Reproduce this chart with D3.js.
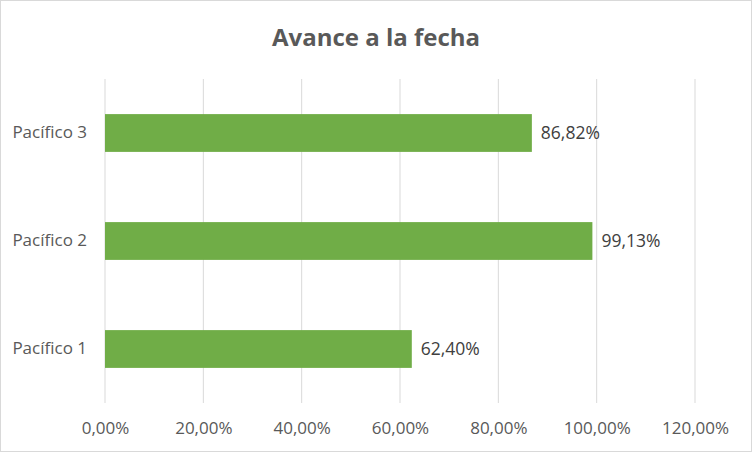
<!DOCTYPE html>
<html>
<head>
<meta charset="utf-8">
<script src="https://cdn.jsdelivr.net/npm/d3@7"></script>
<style>
html,body{margin:0;padding:0;background:#fff;}
svg{display:block;}
text{font-family:"Open Sans",sans-serif;}
</style>
</head>
<body>
<svg id="chart" width="752" height="452"></svg>
<script>
const title = "Avance a la fecha";
const categories = ["Pacífico 1", "Pacífico 2", "Pacífico 3"];
const values = [0.6240, 0.9913, 0.8682];
const tickValues = [0, 0.2, 0.4, 0.6, 0.8, 1.0, 1.2];

const W = 752, H = 452;
const margin = {top: 79, right: 57, bottom: 49, left: 105};
const svg = d3.select("#chart");

svg.append("rect").attr("x", 0.5).attr("y", 0.5).attr("width", W - 1).attr("height", H - 1)
  .attr("fill", "#fff").attr("stroke", "#d9d9d9");

const x = d3.scaleLinear().domain([0, 1.2]).range([margin.left, W - margin.right]);
const y = d3.scaleBand().domain(categories.slice().reverse())
  .range([margin.top, H - margin.bottom]).paddingInner(0.65).paddingOuter(0.325);

const fmt = v => d3.format(".2f")(v * 100).replace(".", ",") + "%";

// gridlines
svg.append("g").selectAll("line").data(tickValues).join("line")
  .attr("x1", d => x(d)).attr("x2", d => x(d))
  .attr("y1", margin.top).attr("y2", H - margin.bottom)
  .attr("stroke", "#d9d9d9").attr("stroke-width", 1);

// x axis labels
const xAxis = d3.axisBottom(x).tickValues(tickValues).tickFormat(fmt).tickSize(0).tickPadding(0);
const gx = svg.append("g").attr("transform", `translate(0,${H - margin.bottom + 18.5})`).call(xAxis);
gx.select(".domain").remove();
gx.selectAll("text").attr("fill", "#595959").attr("font-size", 17).attr("font-family", "Open Sans, sans-serif");

// y axis labels
const yAxis = d3.axisLeft(y).tickSize(0).tickPadding(18);
const gy = svg.append("g").attr("transform", `translate(${margin.left},0)`).call(yAxis);
gy.select(".domain").remove();
gy.selectAll("text").attr("fill", "#595959").attr("font-size", 17).attr("font-family", "Open Sans, sans-serif");

// bars
svg.append("g").selectAll("rect").data(categories).join("rect")
  .attr("x", x(0)).attr("y", d => y(d))
  .attr("width", (d, i) => x(values[i]) - x(0))
  .attr("height", y.bandwidth())
  .attr("fill", "#70ad47");

// data labels
svg.append("g").selectAll("text").data(categories).join("text")
  .attr("x", (d, i) => x(values[i]) + 9)
  .attr("y", d => y(d) + y.bandwidth() / 2)
  .attr("dy", "0.35em")
  .attr("fill", "#404040").attr("font-size", 17.5)
  .text((d, i) => fmt(values[i]));

// title
svg.append("text").attr("x", W / 2).attr("y", 46).attr("text-anchor", "middle")
  .attr("fill", "#595959").attr("font-size", 24).attr("font-weight", "bold")
  .text(title);
</script>
</body>
</html>
